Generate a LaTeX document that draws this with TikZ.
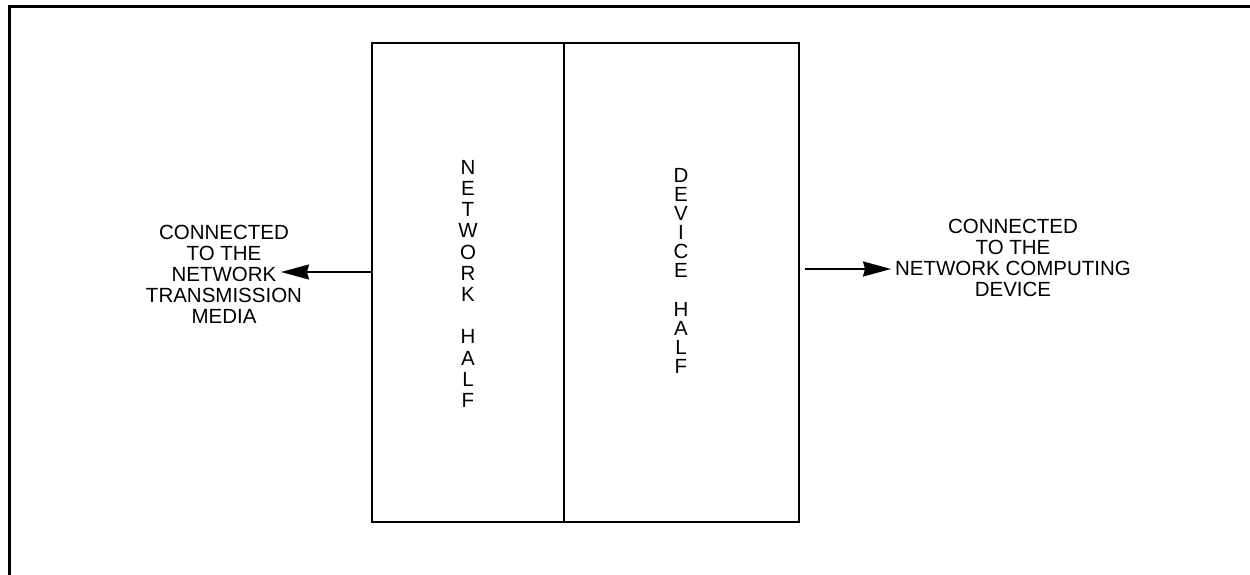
\documentclass[tikz,border=0pt]{standalone}
\usepackage{fontspec}
\setmainfont{Liberation Sans}
\usetikzlibrary{arrows.meta}
\begin{document}
\begin{tikzpicture}[x=1pt,y=-1pt,
  lbl/.style={font=\fontsize{20.5}{21}\selectfont, align=center, inner sep=0pt, anchor=north},
  half/.style={draw, line width=1.8pt, inner sep=0pt},
  conn/.style={line width=1.8pt, -{Stealth[length=28pt,width=15pt,inset=2pt]}}]
\useasboundingbox (0,0) rectangle (1250,575);
\draw[line width=2.5pt] (9.5,575) -- (9.5,6.7) -- (1250,6.7);
\node[half, minimum width=192pt, minimum height=479pt] (nh) at (468,282.5) {};
\node[half, minimum width=235pt, minimum height=479pt] (dh) at (681.5,282.5) {};
\node[lbl, font=\fontsize{20.5}{21.2}\selectfont] (nt) at (468,160) {N\\E\\T\\W\\O\\R\\K\\[21.2pt]H\\A\\L\\F};
\node[lbl, font=\fontsize{20.5}{19.1}\selectfont] (dt) at (681,168) {D\\E\\V\\I\\C\\E\\[19.1pt]H\\A\\L\\F};
\node[lbl] (lt) at (224,225) {CONNECTED\\TO THE\\NETWORK\\TRANSMISSION\\MEDIA};
\node[lbl] (rt) at (1013,219) {CONNECTED\\TO THE\\NETWORK COMPUTING\\DEVICE};
\coordinate (la) at (281,272);
\coordinate (rs) at (805,269);
\coordinate (ra) at (891,269);
\draw[conn] (nh.west |- la) -- (la);
\draw[conn] (rs) -- (ra);
\end{tikzpicture}
\end{document}
